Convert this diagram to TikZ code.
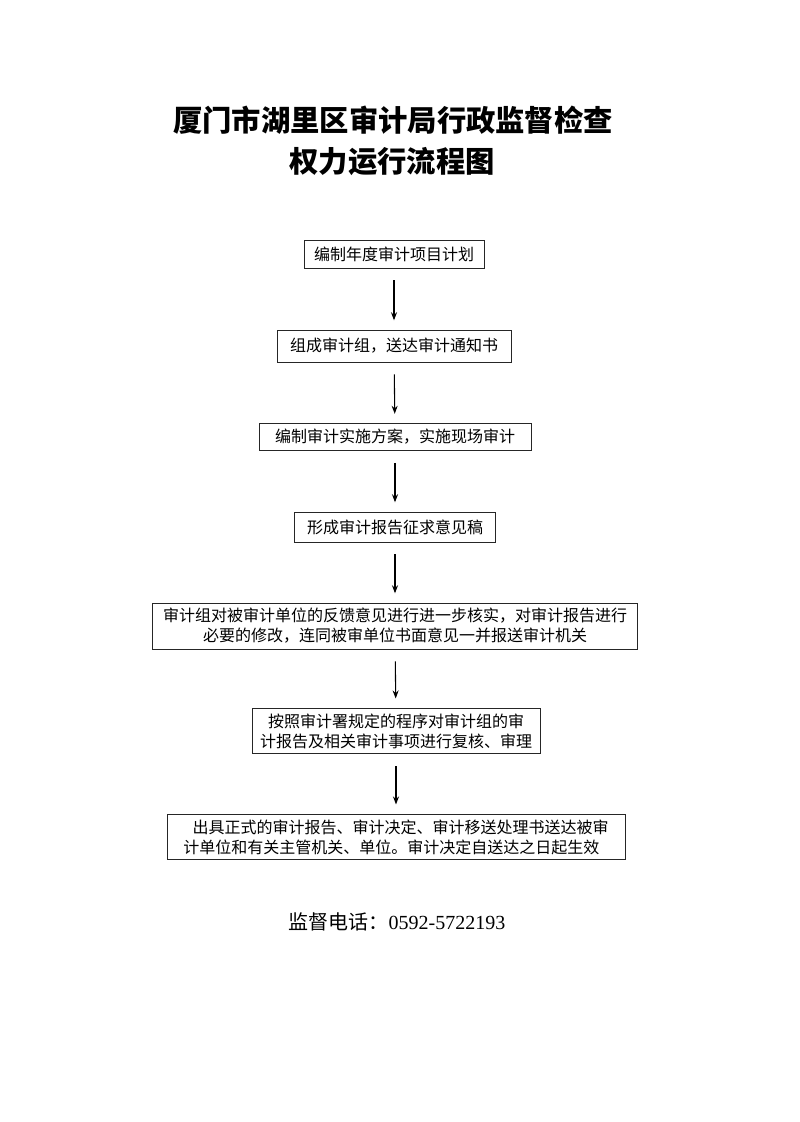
\documentclass[tikz,border=0pt]{standalone}
\usepackage{fontspec}
\setmainfont{Liberation Serif}
\newfontfamily\cjk{Noto Sans CJK SC}
\usepackage{tikz}
\usetikzlibrary{arrows.meta,positioning}
\tikzset{
>={Stealth[length=6pt,width=4.5pt]},
  stepbox/.style={
    rectangle,
    draw=black!85, line width=0.6pt,
    inner sep=4pt,
    align=center,
    font={\cjk\fontsize{12}{15}\selectfont}},
  line/.style={draw, line width=0.8pt, ->, shorten <=9pt, shorten >=7pt},
  headline/.style={font={\cjk\bfseries\fontsize{22}{26}\selectfont}},
}

\begin{document}
\begin{tikzpicture}[x=0.75pt, y=-0.75pt]

    \useasboundingbox[fill=white] (0,0) rectangle (800,1122);

    \node[headline] (title1) at (393,120) {厦门市湖里区审计局行政监督检查};
    \node[headline] (title2) at (392,162) {权力运行流程图};

    \node[stepbox, minimum width=135pt, minimum height=21pt] (plan) at (394,254)
        {编制年度审计项目计划};
    \node[stepbox, minimum width=175.5pt, minimum height=24pt] (group) at (394,346)
        {组成审计组，送达审计通知书};
    \node[stepbox, minimum width=204pt, minimum height=20.25pt] (scheme) at (395,437)
        {编制审计实施方案，实施现场审计};
    \node[stepbox, minimum width=150.75pt, minimum height=22.5pt] (draft) at (395,527)
        {形成审计报告征求意见稿};
    \node[stepbox, minimum width=363.75pt, minimum height=33pt] (verify) at (395,626)
        {审计组对被审计单位的反馈意见进行进一步核实，对审计报告进行\\
         必要的修改，连同被审单位书面意见一并报送审计机关};
    \node[stepbox, minimum width=216pt, minimum height=32.25pt] (review) at (396,731)
        {按照审计署规定的程序对审计组的审\\
         计报告及相关审计事项进行复核、审理};
    \node[stepbox, align=left, minimum width=343.5pt, minimum height=31.5pt] (issue) at (396,837)
        {\hspace*{7pt}出具正式的审计报告、审计决定、审计移送处理书送达被审\\
         计单位和有关主管机关、单位。审计决定自送达之日起生效};

    \path[line] (plan) -- (group);
    \path[line] (group) -- (scheme);
    \path[line] (scheme) -- (draft);
    \path[line] (draft) -- (verify);
    \path[line] (verify) -- (review);
    \path[line] (review) -- (issue);

    \node[font={\fontsize{15}{18}\selectfont}] (phone) at (397,922)
        {{\cjk 监督电话：}0592-5722193};
  \end{tikzpicture}
\end{document}
